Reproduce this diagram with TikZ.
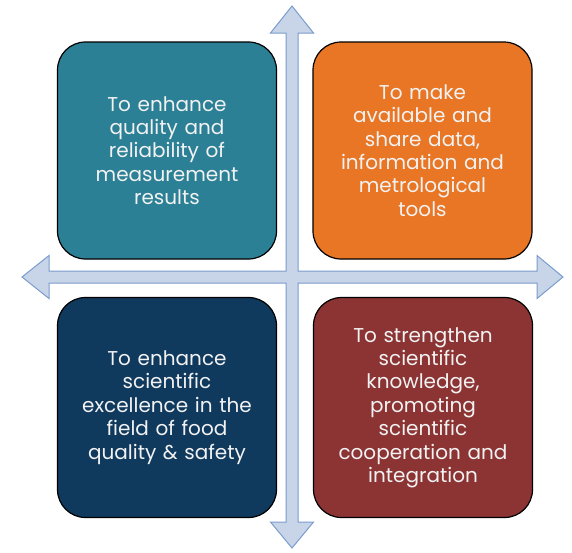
\documentclass[tikz,border=0pt]{standalone}
\usepackage{fontspec}
\setmainfont{Poppins}
\usepackage{tikz}
\usetikzlibrary{positioning}
\definecolor{tealbox}{RGB}{44,128,150}
\definecolor{orangebox}{RGB}{232,118,36}
\definecolor{navybox}{RGB}{16,57,94}
\definecolor{redbox}{RGB}{140,52,52}
\definecolor{arrowfill}{RGB}{200,213,232}
\definecolor{arrowline}{RGB}{122,156,204}
\tikzset{
  goal/.style={draw=black, line width=1.2pt, rounded corners=28pt, minimum width=219pt,
    minimum height=217pt, text width=190pt, align=center, text=white!95!black,
    font=\fontsize{20}{23.4}\selectfont},
  cross/.style={fill=arrowfill, draw=arrowline, line width=1pt, line join=miter}
}

\begin{document}
\begin{tikzpicture}[x=1pt,y=-1pt]
			\useasboundingbox (0,0) rectangle (572,552);
			\draw[cross] (292,6) -- (313.5,33) -- (298,33) -- (298,271) -- (537,271) -- (537,255.5)
				-- (563,277) -- (537,298.5) -- (537,283) -- (298,283) -- (298,522) -- (313.5,522)
				-- (292,548) -- (270.5,522) -- (286,522) -- (286,283) -- (49,283) -- (49,298.5)
				-- (22,277) -- (49,255.5) -- (49,271) -- (286,271) -- (286,33) -- (270.5,33) -- cycle;
			\node[goal, fill=tealbox] (quality) at (167,150.5) {To enhance\\quality and\\reliability of\\measurement\\results};
			\node[goal, fill=orangebox] (data) at (422.5,150.5) {To make\\available and\\share data,\\information and\\metrological\\tools};
			\node[goal, fill=navybox, minimum height=220pt] (excellence) at (167,407.5) {To enhance\\scientific\\excellence in the\\field of food\\quality \& safety};
			\node[goal, fill=redbox, minimum height=220pt] (knowledge) at (423,407.5) {To strengthen\\scientific\\knowledge,\\promoting\\scientific\\cooperation and\\integration};
		\end{tikzpicture}
\end{document}
